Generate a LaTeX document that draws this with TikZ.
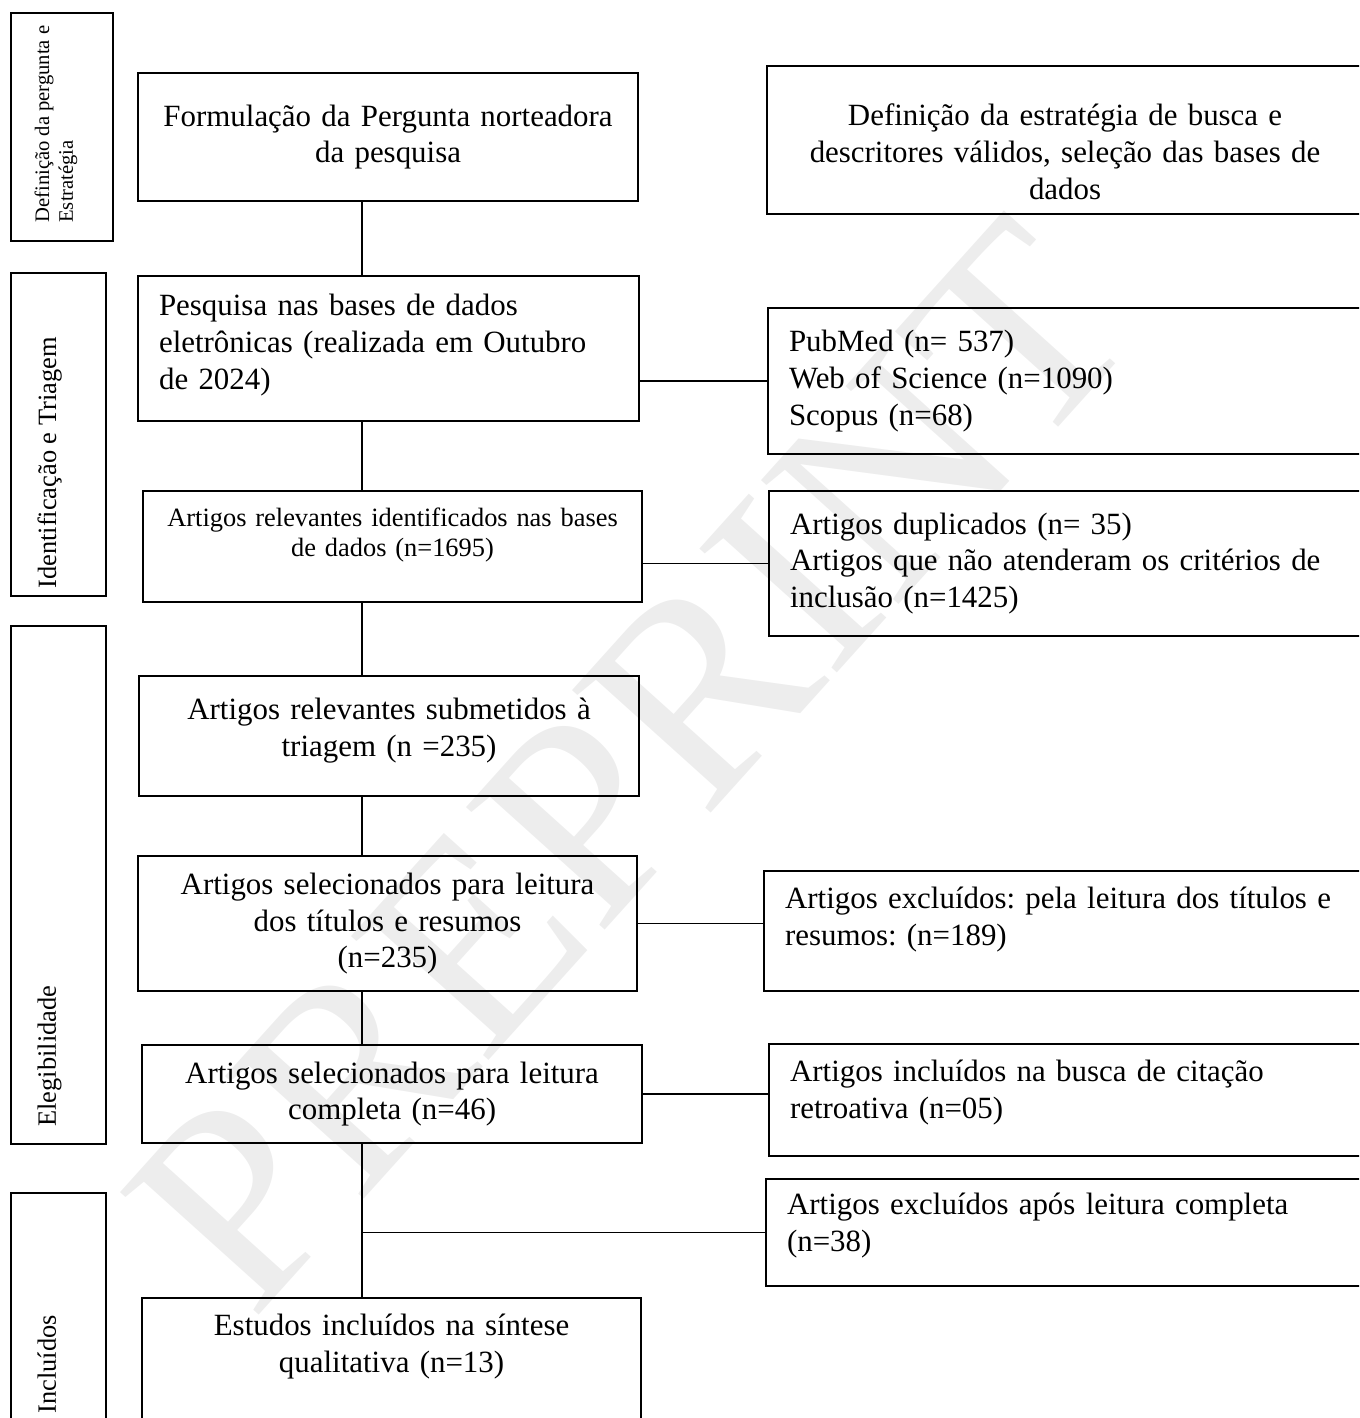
\documentclass[tikz,border=0pt]{standalone}
\usepackage{fontspec}
\setmainfont{Liberation Serif}
\usetikzlibrary{positioning}
\frenchspacing

\newlength{\unitpx}
\setlength{\unitpx}{0.0133cm}
\newcommand{\padabove}[1]{\rule{0pt}{#1}}
\newcommand{\padbelow}[1]{\rule[-#1]{0pt}{0pt}}

\tikzset{
  box/.style={draw, line width=0.8pt, anchor=north west, inner ysep=0pt,
    font=\fontsize{11.7}{14}\selectfont},
  centerbox/.style={box, align=center, inner xsep=5\unitpx},
  leftbox/.style={box, align=left, inner xsep=21\unitpx},
  stagebox/.style={draw, line width=0.8pt, anchor=north west, inner sep=0pt},
  stagetext/.style={rotate=90, anchor=north west, inner sep=0pt, align=left,
    font=\fontsize{10}{11.5}\selectfont},
  link/.style={line width=0.6pt},
  watermark/.style={rotate=48, inner sep=0pt, text=gray!14,
    font=\fontsize{107}{107}\selectfont}
}

\begin{document}
\begin{tikzpicture}[x=0.0133cm, y=-0.0133cm]
  \path[use as bounding box, clip] (0,0) rectangle (1359,1418);

  % watermark
  \node[watermark] (wm) at (630,765) {PREPRINT};

  % stages on the left
  \node[stagebox, minimum width=102\unitpx, minimum height=228\unitpx] (stagedef) at (10,12) {};
  \node[stagetext, font=\fontsize{7.8}{9}\selectfont] (stagedeftext)
    at ([xshift=24\unitpx, yshift=19\unitpx]stagedef.south west) {Definição da pergunta e\\Estratégia};
  \node[stagebox, minimum width=95\unitpx, minimum height=323\unitpx] (stageid) at (10,272) {};
  \node[stagetext] (stageidtext)
    at ([xshift=27\unitpx, yshift=8\unitpx]stageid.south west) {Identificação e Triagem};
  \node[stagebox, minimum width=95\unitpx, minimum height=518\unitpx] (stageelig) at (10,625) {};
  \node[stagetext] (stageeligtext)
    at ([xshift=27\unitpx, yshift=18\unitpx]stageelig.south west) {Elegibilidade};
  \node[stagebox, minimum width=95\unitpx, minimum height=240\unitpx] (stageinc) at (10,1192) {};
  \node[stagetext] (stageinctext)
    at ([xshift=27\unitpx, yshift=20\unitpx]stageinc.south west) {Incluídos};

  % main column
  \node[centerbox, minimum width=500\unitpx, minimum height=128\unitpx, text width=490\unitpx]
    (formula) at (137,72) {Formulação da Pergunta norteadora\\da pesquisa};
  \node[leftbox, minimum width=501\unitpx, minimum height=145\unitpx, text width=459\unitpx]
    (search) at (137,275) {Pesquisa nas bases de dados\\eletrônicas (realizada em Outubro\\de 2024)\padbelow{5pt}};
  \node[centerbox, font=\fontsize{10}{11.5}\selectfont, minimum width=499\unitpx,
    minimum height=111\unitpx, text width=489\unitpx]
    (identified) at (142,490) {Artigos relevantes identificados nas bases\\de dados (n=1695)\padbelow{11pt}};
  \node[centerbox, minimum width=500\unitpx, minimum height=120\unitpx, text width=490\unitpx]
    (screened) at (138,675) {Artigos relevantes submetidos à\\triagem (n =235)\padbelow{7pt}};
  \node[centerbox, minimum width=499\unitpx, minimum height=135\unitpx, text width=489\unitpx]
    (titles) at (137,855) {Artigos selecionados para leitura\\dos títulos e resumos\\(n=235)};
  \node[centerbox, minimum width=500\unitpx, minimum height=98\unitpx, text width=490\unitpx]
    (fulltext) at (141,1044) {Artigos selecionados para leitura\\completa (n=46)};
  \node[centerbox, inner ysep=16\unitpx, minimum width=499\unitpx, text width=489\unitpx]
    (included) at (141,1297) {Estudos incluídos na síntese\\qualitativa (n=13)\\[30pt]\mbox{}};

  % right column
  \node[centerbox, minimum width=596\unitpx, minimum height=148\unitpx, text width=586\unitpx]
    (strategy) at (766,65) {\padabove{17pt}Definição da estratégia de busca e\\descritores válidos, seleção das bases de\\dados};
  \node[leftbox, minimum width=620\unitpx, minimum height=146\unitpx, text width=578\unitpx]
    (sources) at (767,307) {PubMed (n= 537)\\Web of Science (n=1090)\\Scopus (n=68)};
  \node[leftbox, minimum width=620\unitpx, minimum height=145\unitpx, text width=578\unitpx]
    (duplicates) at (768,490) {Artigos duplicados (n= 35)\\Artigos que não atenderam os critérios de\\inclusão (n=1425)};
  \node[leftbox, minimum width=620\unitpx, minimum height=120\unitpx, text width=578\unitpx]
    (excltitles) at (763,870) {Artigos excluídos: pela leitura dos títulos e\\resumos: (n=189)\padbelow{11pt}};
  \node[leftbox, minimum width=620\unitpx, minimum height=112\unitpx, text width=578\unitpx]
    (backward) at (768,1043) {Artigos incluídos na busca de citação\\retroativa (n=05)\padbelow{8pt}};
  \node[leftbox, minimum width=620\unitpx, minimum height=107\unitpx, text width=578\unitpx]
    (exclfull) at (765,1178) {Artigos excluídos após leitura completa\\(n=38)\padbelow{8pt}};

  % connectors
  \coordinate (spine) at (362,0);
  \draw[link] (formula.south -| spine) -- (search.north -| spine);
  \draw[link] (search.south -| spine) -- (identified.north -| spine);
  \draw[link] (identified.south -| spine) -- (screened.north -| spine);
  \draw[link] (screened.south -| spine) -- (titles.north -| spine);
  \draw[link] (titles.south -| spine) -- (fulltext.north -| spine);
  \draw[link] (fulltext.south -| spine) -- (included.north -| spine);
  \draw[link] (search.east |- sources.west) -- (sources.west);
  \draw[link] (identified.east |- duplicates.west) -- (duplicates.west);
  \draw[link] (titles.east) -- (titles.east -| excltitles.west);
  \draw[link] (fulltext.east) -- (fulltext.east -| backward.west);
  \draw[link] (exclfull.west -| spine) -- (exclfull.west);
\end{tikzpicture}
\end{document}
